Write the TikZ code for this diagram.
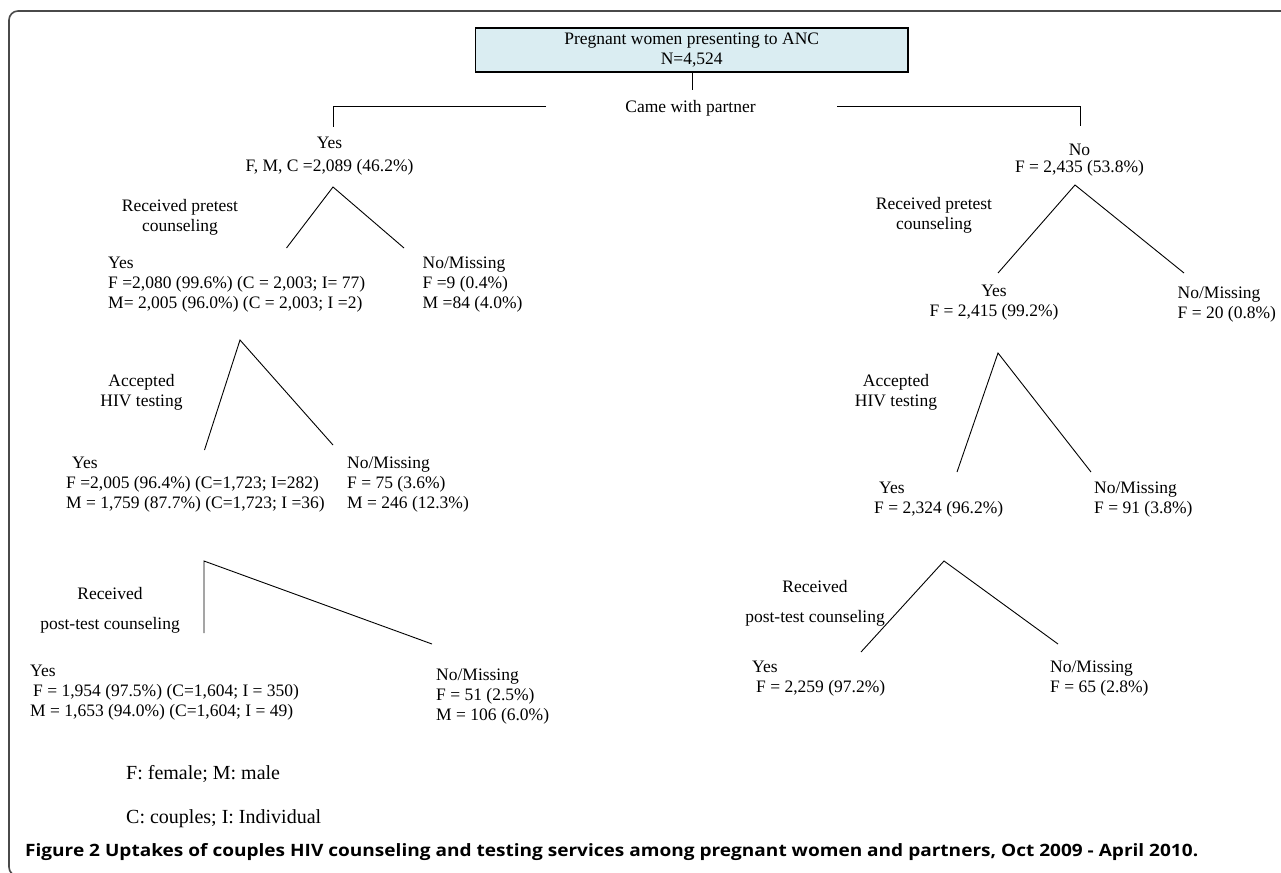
\documentclass[tikz,border=0pt]{standalone}
\usepackage{fontspec}
\usepackage{graphicx}
\setmainfont{Liberation Serif}
\newfontfamily\capfont{Open Sans}
\usetikzlibrary{positioning,calc}
\definecolor{boxblue}{HTML}{DAEDF2}
\definecolor{framegray}{HTML}{4A4A4A}
\newcommand{\treefont}{\fontsize{17.5}{20}\selectfont}
\newcommand{\legfont}{\fontsize{20}{22}\selectfont}
\tikzset{
  tline/.style={line width=0.9pt},
  cnt/.style={align=center,inner sep=0,anchor=north,font=\treefont},
  lft/.style={align=left,inner sep=0,anchor=north west,font=\treefont},
}

\begin{document}
\begin{tikzpicture}[x=1pt,y=-1pt]
        \useasboundingbox (0,0) rectangle (1281,872);
        \draw[framegray,line width=1.6pt,rounded corners=9pt] (9,11) rectangle (1310,876);

        % root
        \node[rectangle,draw,line width=1.1pt,fill=boxblue,minimum width=432.5,minimum height=44,inner sep=0,font=\treefont,align=center] (anc) at (691.7,50) {Pregnant women presenting to ANC\\N=4,524};
        \coordinate (ancfoot) at (692,90);
        \draw[tline] (ancfoot |- anc.south) -- (ancfoot);

        \node[cnt,anchor=center] (came) at (690.5,108) {Came with partner};
        \coordinate (cwL) at (546,106);
        \coordinate (cwR) at (837,106);
        \coordinate (yesTop) at (333,127);
        \coordinate (noTop) at (1080,126);
        \draw[tline] (cwL) -| (yesTop);
        \draw[tline] (cwR) -| (noTop);

        \node[cnt] (yes1) at (329.5,137) {Yes\\[3pt]F, M, C =2,089 (46.2\%)};
        \node[cnt] (no1) at (1079.5,144) {No\\[-3pt]F = 2,435 (53.8\%)};

        % came with partner: yes branch
        \coordinate (preA) at (333,187);
        \coordinate (preAl) at (286.5,248);
        \coordinate (preAr) at (404,248);
        \draw[tline] (preAl) -- (preA) -- (preAr);
        \node[cnt] (preLbl1) at (180,199) {Received pretest\\counseling};

        \node[lft] (yes2) at (108,257) {Yes\\F =2,080 (99.6\%) (C = 2,003; I= 77)\\M= 2,005 (96.0\%) (C = 2,003; I =2)};
        \node[lft] (no2) at (422.5,257) {No/Missing\\F =9 (0.4\%)\\M =84 (4.0\%)};

        \coordinate (hivA) at (240,340);
        \coordinate (hivAl) at (204.5,450);
        \coordinate (hivAr) at (333,445);
        \draw[tline] (hivAl) -- (hivA) -- (hivAr);
        \node[cnt] (hivLbl1) at (141.5,374) {Accepted\\HIV testing};

        \node[lft] (yes3) at (66,457) {\hspace*{6pt}Yes\\F =2,005 (96.4\%) (C=1,723; I=282)\\M = 1,759 (87.7\%) (C=1,723; I =36)};
        \node[lft] (no3) at (347,457) {No/Missing\\F = 75 (3.6\%)\\M = 246 (12.3\%)};

        \coordinate (postA) at (204,561);
        \coordinate (postAl) at (204,633);
        \coordinate (postAr) at (432,644);
        \draw[tline] (postAl) -- (postA) -- (postAr);
        \node[cnt] (postLbl1) at (110,587) {Received\\[10pt]post-test counseling};

        \node[lft] (yes4) at (30,665) {Yes\\\hspace*{3pt}F = 1,954 (97.5\%) (C=1,604; I = 350)\\M = 1,653 (94.0\%) (C=1,604; I = 49)};
        \node[lft] (no4) at (436,669) {No/Missing\\F = 51 (2.5\%)\\M = 106 (6.0\%)};

        % came with partner: no branch
        \coordinate (preB) at (1075,185);
        \coordinate (preBl) at (998,273);
        \coordinate (preBr) at (1184,273);
        \draw[tline] (preBl) -- (preB) -- (preBr);
        \node[cnt] (preLbl2) at (934,197) {Received pretest\\counseling};

        \node[cnt] (yes5) at (994,285) {Yes\\F = 2,415 (99.2\%)};
        \node[lft] (no5) at (1177.5,287) {No/Missing\\F = 20 (0.8\%)};

        \coordinate (hivB) at (998,353);
        \coordinate (hivBl) at (957,472);
        \coordinate (hivBr) at (1091,472);
        \draw[tline] (hivBl) -- (hivB) -- (hivBr);
        \node[cnt] (hivLbl2) at (896,374) {Accepted\\HIV testing};

        \node[lft] (yes6) at (874,482) {\hspace*{5pt}Yes\\F = 2,324 (96.2\%)};
        \node[lft] (no6) at (1094,482) {No/Missing\\F = 91 (3.8\%)};

        \coordinate (postB) at (944,561);
        \coordinate (postBl) at (861,652);
        \coordinate (postBr) at (1058,644);
        \draw[tline] (postBl) -- (postB) -- (postBr);
        \node[cnt] (postLbl2) at (815,580) {Received\\[10pt]post-test counseling};

        \node[lft] (yes7) at (752,661) {Yes\\\hspace*{4pt}F = 2,259 (97.2\%)};
        \node[lft] (no7) at (1050,661) {No/Missing\\F = 65 (2.8\%)};

        % legend and caption
        \node[inner sep=0,anchor=base west,font=\legfont] (legFM) at (126,779) {F: female; M: male};
        \node[inner sep=0,anchor=base west,font=\legfont] (legCI) at (126,823) {C: couples; I: Individual};
        \node[inner sep=0,anchor=base west,font=\capfont\bfseries\fontsize{17}{20}\selectfont] (caption) at (25,856) {\resizebox{1173pt}{\height}{Figure 2 Uptakes of couples HIV counseling and testing services among pregnant women and partners, Oct 2009 - April 2010.}};

      \end{tikzpicture}
\end{document}
